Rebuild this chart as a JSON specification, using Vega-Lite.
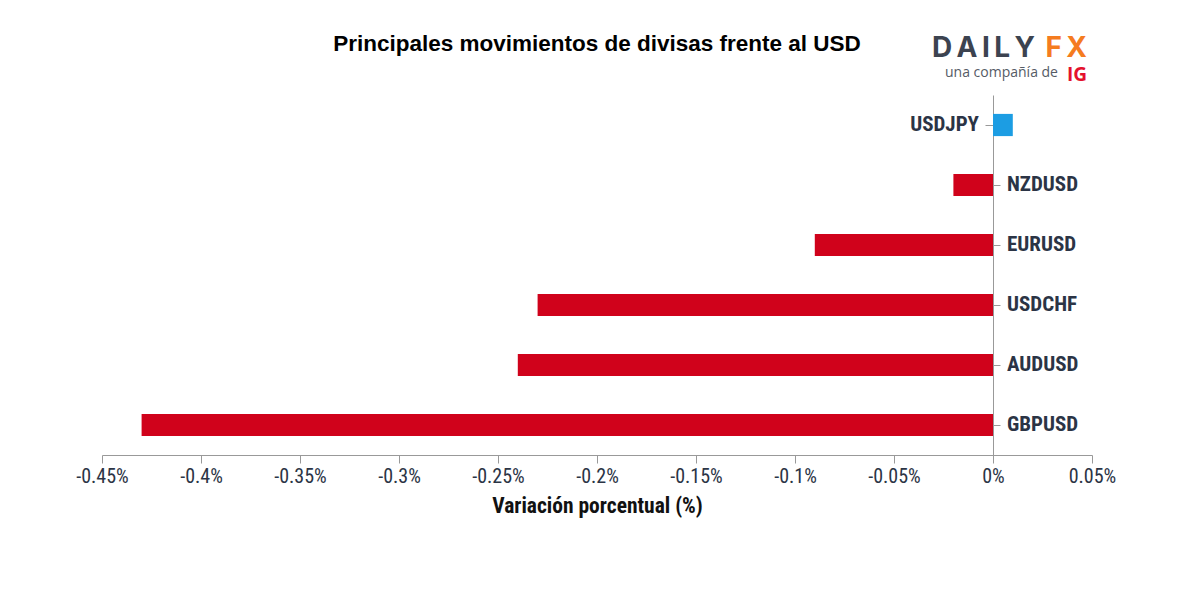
{
  "$schema": "https://vega.github.io/schema/vega-lite/v6.json",
  "width": 990,
  "height": 360,
  "autosize": "none",
  "padding": {"left": 102, "top": 95, "right": 108, "bottom": 145},
  "background": "white",
  "config": {"view": {"stroke": null}},
  "data": {
    "values": [
      {"pair": "USDJPY", "change": 0.01},
      {"pair": "NZDUSD", "change": -0.02},
      {"pair": "EURUSD", "change": -0.09},
      {"pair": "USDCHF", "change": -0.23},
      {"pair": "AUDUSD", "change": -0.24},
      {"pair": "GBPUSD", "change": -0.43}
    ]
  },
  "encoding": {
    "y": {
      "field": "pair",
      "type": "nominal",
      "sort": ["USDJPY", "NZDUSD", "EURUSD", "USDCHF", "AUDUSD", "GBPUSD"],
      "scale": {"paddingInner": 0.63, "paddingOuter": 0.315},
      "axis": {
        "orient": "right",
        "offset": -99,
        "labels": false,
        "title": null,
        "domainColor": "#999999",
        "tickColor": "#999999",
        "tickSize": {"condition": {"test": "datum.value === 'USDJPY'", "value": -8}, "value": 7}
      }
    }
  },
  "layer": [
    {
      "mark": {"type": "bar"},
      "encoding": {
        "x": {
          "field": "change",
          "type": "quantitative",
          "scale": {"domain": [-0.45, 0.05], "nice": false, "zero": false},
          "axis": {
            "values": [-0.45, -0.4, -0.35, -0.3, -0.25, -0.2, -0.15, -0.1, -0.05, 0, 0.05],
            "labelExpr": "datum.value + '%'",
            "grid": false,
            "domainColor": "#999999",
            "tickColor": "#999999",
            "tickSize": 8,
            "labelFont": "Roboto Condensed, Liberation Sans Narrow, Roboto, sans-serif",
            "labelFontSize": 20,
            "labelColor": "#2b3445",
            "labelPadding": 3,
            "labelFlush": false,
            "title": "Variación porcentual (%)",
            "titleFont": "Roboto Condensed, Liberation Sans Narrow, Roboto, sans-serif",
            "titleFontSize": 21.5,
            "titleFontWeight": "bold",
            "titleColor": "#111111",
            "titlePadding": 9
          }
        },
        "color": {
          "condition": {"test": "datum.change > 0", "value": "#1c9de3"},
          "value": "#d0021b"
        }
      }
    },
    {
      "transform": [{"filter": "datum.change < 0"}],
      "mark": {
        "type": "text",
        "align": "left",
        "baseline": "middle",
        "dx": 14,
        "font": "Roboto Condensed, Liberation Sans Narrow, Roboto, sans-serif",
        "fontSize": 21,
        "fontWeight": "bold",
        "color": "#2b3445"
      },
      "encoding": {
        "x": {"datum": 0, "type": "quantitative"},
        "text": {"field": "pair"}
      }
    },
    {
      "transform": [{"filter": "datum.change > 0"}],
      "mark": {
        "type": "text",
        "align": "right",
        "baseline": "middle",
        "dx": -14,
        "font": "Roboto Condensed, Liberation Sans Narrow, Roboto, sans-serif",
        "fontSize": 21,
        "fontWeight": "bold",
        "color": "#2b3445"
      },
      "encoding": {
        "x": {"datum": 0, "type": "quantitative"},
        "text": {"field": "pair"}
      }
    },
    {
      "data": {"values": [{"t": "Principales movimientos de divisas frente al USD"}]},
      "mark": {
        "type": "text",
        "align": "center",
        "baseline": "alphabetic",
        "font": "Liberation Sans, Arial, sans-serif",
        "fontSize": 22.5,
        "fontWeight": "bold",
        "color": "#000000"
      },
      "encoding": {
        "x": {"value": 495},
        "y": {"value": -44},
        "text": {"field": "t"}
      }
    },
    {
      "data": {"values": [{"t": "D\u2009A\u2009I\u2009L\u2009Y"}]},
      "mark": {
        "type": "text",
        "align": "left",
        "baseline": "alphabetic",
        "font": "Inter, Open Sans, sans-serif",
        "fontSize": 28,
        "fontWeight": "bold",
        "color": "#3c4350"
      },
      "encoding": {
        "x": {"value": 830},
        "y": {"value": -38},
        "text": {"field": "t"}
      }
    },
    {
      "data": {"values": [{"t": "F\u2009X"}]},
      "mark": {
        "type": "text",
        "align": "right",
        "baseline": "alphabetic",
        "font": "Inter, Open Sans, sans-serif",
        "fontSize": 28,
        "fontWeight": "bold",
        "color": "#f57c1f"
      },
      "encoding": {
        "x": {"value": 985},
        "y": {"value": -38},
        "text": {"field": "t"}
      }
    },
    {
      "data": {"values": [{"t": "una compañía de"}]},
      "mark": {
        "type": "text",
        "align": "left",
        "baseline": "alphabetic",
        "font": "Open Sans, sans-serif",
        "fontSize": 14,
        "color": "#555b66"
      },
      "encoding": {
        "x": {"value": 843},
        "y": {"value": -18},
        "text": {"field": "t"}
      }
    },
    {
      "data": {"values": [{"t": "IG"}]},
      "mark": {
        "type": "text",
        "align": "right",
        "baseline": "alphabetic",
        "font": "Open Sans, sans-serif",
        "fontSize": 19,
        "fontWeight": "bold",
        "color": "#e4112d"
      },
      "encoding": {
        "x": {"value": 985},
        "y": {"value": -14},
        "text": {"field": "t"}
      }
    }
  ]
}
